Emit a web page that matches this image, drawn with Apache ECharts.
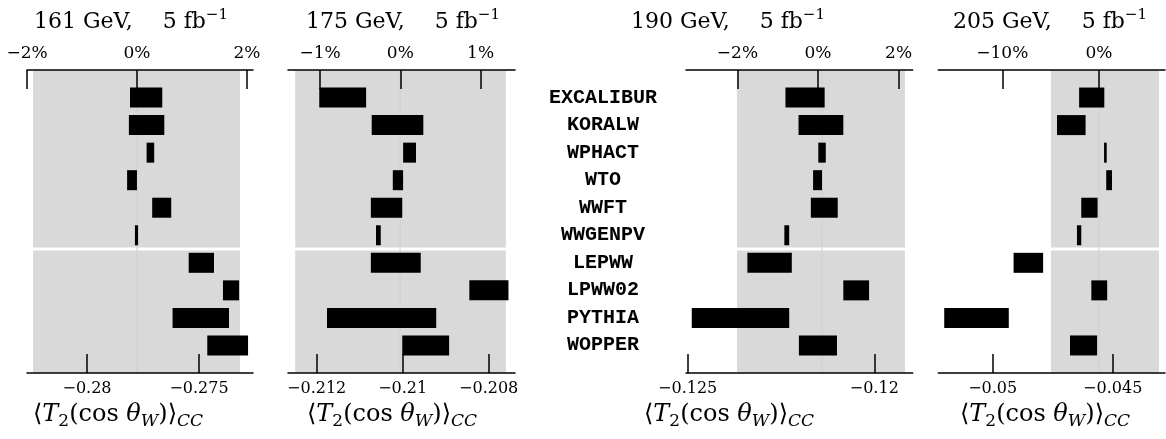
<!DOCTYPE html>
<html><head><meta charset="utf-8">
<script src="https://cdn.jsdelivr.net/npm/echarts@6/dist/echarts.min.js"></script>
<style>html,body{margin:0;padding:0;background:#fff}#c{width:1166px;height:439px}</style>
</head><body><div id="c"></div>
<script>
// ---- data ----
const generators = ['EXCALIBUR','KORALW','WPHACT','WTO','WWFT','WWGENPV','LEPWW','LPWW02','PYTHIA','WOPPER'];
const energies = ['161','175','190','205'];

const lo161 = [-0.27808,-0.27813,-0.27734,-0.27821,-0.27709,-0.27786,-0.27546,-0.27393,-0.27618,-0.27463];
const hi161 = [-0.27664,-0.27655,-0.27700,-0.27777,-0.27624,-0.27772,-0.27433,-0.27321,-0.27366,-0.27281];
const lo175 = [-0.21194,-0.21072,-0.20999,-0.21023,-0.21074,-0.21062,-0.21074,-0.20845,-0.21176,-0.21001];
const hi175 = [-0.21085,-0.20952,-0.20969,-0.20999,-0.21001,-0.21051,-0.20958,-0.20754,-0.20922,-0.20892];
const lo190 = [-0.12238,-0.12203,-0.12150,-0.12164,-0.12170,-0.12241,-0.12340,-0.12083,-0.12489,-0.12202];
const hi190 = [-0.12133,-0.12083,-0.12130,-0.12140,-0.12098,-0.12228,-0.12221,-0.12014,-0.12228,-0.12100];
const lo205 = [-0.04640,-0.04732,-0.04536,-0.04527,-0.04631,-0.04649,-0.04913,-0.04589,-0.05202,-0.04678];
const hi205 = [-0.04535,-0.04613,-0.04525,-0.04503,-0.04563,-0.04631,-0.04790,-0.04523,-0.04933,-0.04565];

const band161 = [-0.28241,-0.27317];
const band175 = [-0.21250,-0.20760];
const band190 = [-0.12368,-0.11918];
const band205 = [-0.04757,-0.04307];

const ref161 = -0.27777, ref175 = -0.21006, ref190 = -0.12140, ref205 = -0.04557;

const range161 = [-0.282679,-0.272589], pct161 = [-2, 2.109];
const range175 = [-0.212667,-0.207388], pct175 = [-1.3985, 1.4284];
const range190 = [-0.125045,-0.118971], pct190 = [-3.278, 2.350];
const range205 = [-0.052267,-0.042821], pct205 = [-16.62, 6.83];

const ticks161 = [-0.28,-0.275],        pticks161 = [-2,0,2];
const ticks175 = [-0.212,-0.21,-0.208], pticks175 = [-1,0,1];
const ticks190 = [-0.125,-0.12],        pticks190 = [-2,0,2];
const ticks205 = [-0.05,-0.045],        pticks205 = [-10,0];

const separatorAfter = 6; // rows 1..6 | 7..10

// ---- layout ----
const panels = [
  {e:energies[0], lo:lo161, hi:hi161, band:band161, ref:ref161, range:range161, pct:pct161, ticks:ticks161, pticks:pticks161, left:27,    width:226,   titleX:131,  axTitleX:118},
  {e:energies[1], lo:lo175, hi:hi175, band:band175, ref:ref175, range:range175, pct:pct175, ticks:ticks175, pticks:pticks175, left:288,   width:227,   titleX:403,  axTitleX:392},
  {e:energies[2], lo:lo190, hi:hi190, band:band190, ref:ref190, range:range190, pct:pct190, ticks:ticks190, pticks:pticks190, left:686,   width:226.7, titleX:728,  axTitleX:729},
  {e:energies[3], lo:lo205, hi:hi205, band:band205, ref:ref205, range:range205, pct:pct205, ticks:ticks205, pticks:pticks205, left:938.3, width:226.7, titleX:1050, axTitleX:1045}
];
const nRows = generators.length;
const yMax = nRows + 1;
const sep = separatorAfter + 0.5;
const serif = 'DejaVu Serif';
const minus = s => String(s).replace('-', '\u2212');

const grid = [], xAxis = [], yAxis = [], series = [], title = [];
panels.forEach((p, i) => {
  grid.push({left:p.left, width:p.width, top:70, height:303, containLabel:false, outerBoundsMode:'none'});
  const common = {
    gridIndex:i, type:'value', scale:true, z:10,
    axisLine:{show:true, onZero:false, lineStyle:{color:'#000', width:1.5}},
    splitLine:{show:false}
  };
  xAxis.push(Object.assign({}, common, {
    position:'bottom', min:p.range[0], max:p.range[1],
    axisTick:{show:true, inside:true, length:19, customValues:p.ticks, lineStyle:{color:'#000', width:1.5}},
    axisLabel:{customValues:p.ticks, formatter:v => minus(v), margin:8, fontFamily:serif, fontSize:16, color:'#000'}
  }));
  xAxis.push(Object.assign({}, common, {
    position:'top', min:p.pct[0], max:p.pct[1],
    axisTick:{show:true, inside:true, length:19, customValues:p.pticks, lineStyle:{color:'#000', width:1.5}},
    axisLabel:{customValues:p.pticks, formatter:v => minus(v) + '%', margin:8, fontFamily:serif, fontSize:17, color:'#000'}
  }));
  yAxis.push({
    gridIndex:i, type:'value', min:0, max:yMax, inverse:true,
    axisLine:{show:false}, axisTick:{show:false}, splitLine:{show:false},
    axisLabel: i === 2 ? {
      show:true, customValues:generators.map((g, k) => k + 1),
      formatter:v => generators[v - 1], align:'center', margin:83,
      fontFamily:'Liberation Mono', fontWeight:'bold', fontSize:20, color:'#000'
    } : {show:false}
  });
  const xi = 2 * i;
  // grey bands (two blocks, white gap between groups)
  series.push({
    type:'custom', xAxisIndex:xi, yAxisIndex:i, silent:true, z:1,
    data:[[p.band[0], p.band[1], 0, sep], [p.band[0], p.band[1], sep, yMax]],
    encode:{x:[0,1], y:[2,3]},
    renderItem:(params, api) => {
      const a = api.coord([api.value(0), api.value(2)]);
      const b = api.coord([api.value(1), api.value(3)]);
      let y0 = a[1], y1 = b[1];
      if (api.value(2) === sep) y0 += 1.5;
      if (api.value(3) === sep) y1 -= 1.5;
      return {type:'rect', shape:{x:a[0], y:y0, width:b[0]-a[0], height:y1-y0}, style:{fill:'#d9d9d9'}};
    }
  });
  // faint reference line
  series.push({
    type:'custom', xAxisIndex:xi, yAxisIndex:i, silent:true, z:2,
    data:[[p.ref, 0, yMax]], encode:{x:0, y:[1,2]},
    renderItem:(params, api) => {
      const a = api.coord([api.value(0), api.value(1)]);
      const b = api.coord([api.value(0), api.value(2)]);
      return {type:'line', shape:{x1:a[0], y1:a[1], x2:b[0], y2:b[1]}, style:{stroke:'#cfcfcf', lineWidth:1}};
    }
  });
  // result bars
  series.push({
    type:'custom', name:p.e + ' GeV', xAxisIndex:xi, yAxisIndex:i, z:3,
    data:generators.map((g, k) => [p.lo[k], p.hi[k], k + 1]),
    encode:{x:[0,1], y:2},
    renderItem:(params, api) => {
      const a = api.coord([api.value(0), api.value(2)]);
      const b = api.coord([api.value(1), api.value(2)]);
      return {type:'rect', shape:{x:a[0], y:a[1]-10, width:b[0]-a[0], height:20}, style:{fill:'#000'}};
    }
  });
  const base = {fontFamily:serif, fontWeight:'normal', color:'#000'};
  title.push({
    text:'{n|' + p.e + ' GeV,}{g|5 fb}{s|\u22121}',
    left:p.titleX, top:22, textAlign:'center', textVerticalAlign:'middle', padding:0,
    textStyle:{fontWeight:'normal', rich:{
      n:Object.assign({fontSize:22, lineHeight:28}, base),
      g:Object.assign({fontSize:22, lineHeight:28, padding:[0,0,0,30]}, base),
      s:Object.assign({fontSize:15, lineHeight:13, verticalAlign:'top'}, base)
    }}
  });
  title.push({
    text:'{t|\u27E8}{i|T}{b|2}{t|(cos }{i|\u03B8}{bi|W}{t|)\u27E9}{bi|CC}',
    left:p.axTitleX, top:415, textAlign:'center', textVerticalAlign:'middle', padding:0,
    textStyle:{fontWeight:'normal', rich:{
      t:Object.assign({fontSize:24, lineHeight:30}, base),
      i:Object.assign({fontSize:24, lineHeight:30, fontStyle:'italic'}, base),
      b:Object.assign({fontSize:17, lineHeight:17, verticalAlign:'bottom'}, base),
      bi:Object.assign({fontSize:17, lineHeight:17, verticalAlign:'bottom', fontStyle:'italic'}, base)
    }}
  });
});

const chart = echarts.init(document.getElementById('c'), null, {renderer:'canvas'});
chart.setOption({animation:false, backgroundColor:'#fff', title, grid, xAxis, yAxis, series});
</script>
</body></html>
